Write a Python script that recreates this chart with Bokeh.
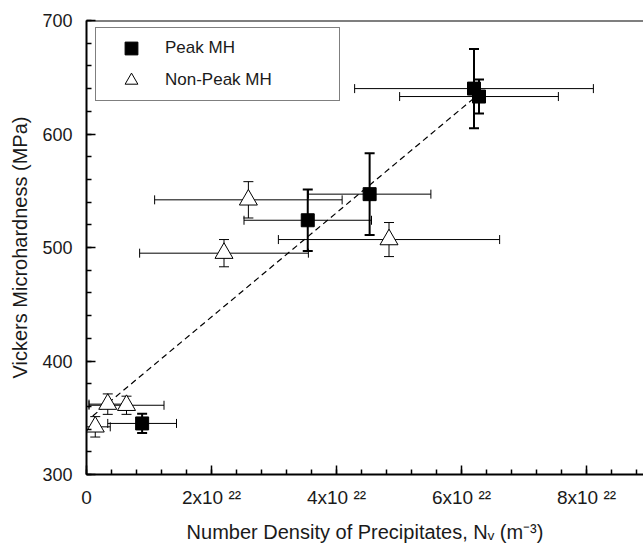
from bokeh.plotting import figure
from bokeh.models import (ColumnDataSource, Whisker, TeeHead, Span, Legend, LegendItem,
                          Range1d, SingleIntervalTicker)
from bokeh.embed import file_html
from bokeh.resources import INLINE

# Number density in units of 1e22 m^-3, microhardness in MPa
peak_nv = [6.20, 6.28, 4.53, 3.54, 0.89]
peak_mh = [640, 633, 547, 524, 345]
peak_nv_err = [1.91, 1.27, 0.98, 1.02, 0.55]
peak_mh_err = [35, 15, 36, 27, 8.5]

nonpeak_nv = [2.59, 2.20, 4.84, 0.34, 0.64, 0.14]
nonpeak_mh = [542, 495, 507, 362, 361, 342]
nonpeak_nv_err = [1.50, 1.35, 1.77, 0.30, 0.60, 0.24]
nonpeak_mh_err = [16, 12, 15, 9, 8, 9]

fit_nv = [0.10, 6.25]
fit_mh = [351.6, 633.9]

x_ticks = [0, 2, 4, 6, 8]
x_tick_labels = ["0", "2x10 \u00b2\u00b2", "4x10 \u00b2\u00b2", "6x10 \u00b2\u00b2", "8x10 \u00b2\u00b2"]

FONT = "Liberation Sans"
TXT = "#1a1a1a"


def err_source(xs, ys, xe, ye):
    return ColumnDataSource(dict(
        x=xs, y=ys,
        xl=[a - b for a, b in zip(xs, xe)], xu=[a + b for a, b in zip(xs, xe)],
        yl=[a - b for a, b in zip(ys, ye)], yu=[a + b for a, b in zip(ys, ye)],
    ))


src_p = err_source(peak_nv, peak_mh, peak_nv_err, peak_mh_err)
src_n = err_source(nonpeak_nv, nonpeak_mh, nonpeak_nv_err, nonpeak_mh_err)

p = figure(width=643, height=551, output_backend="svg", toolbar_location=None,
           x_range=Range1d(0, 8.912), y_range=Range1d(300, 700),
           min_border_left=86, min_border_right=0, min_border_top=20, min_border_bottom=77)
p.outline_line_color = None
p.grid.visible = False
p.background_fill_color = "white"
p.border_fill_color = "white"

# Dashed fit line
p.line(fit_nv, fit_mh, line_color="black", line_width=1.2, line_dash="6 4")


def add_whiskers(src, ylw):
    wx = Whisker(source=src, base="y", lower="xl", upper="xu", dimension="width",
                 line_color="black", line_width=1,
                 lower_head=TeeHead(size=9, line_width=1, line_color="black"),
                 upper_head=TeeHead(size=9, line_width=1, line_color="black"), level="underlay")
    wy = Whisker(source=src, base="x", lower="yl", upper="yu", dimension="height",
                 line_color="black", line_width=ylw,
                 lower_head=TeeHead(size=10, line_width=ylw, line_color="black"),
                 upper_head=TeeHead(size=10, line_width=ylw, line_color="black"), level="underlay")
    p.add_layout(wx)
    p.add_layout(wy)


add_whiskers(src_p, 2)
add_whiskers(src_n, 1)

sq = p.scatter("x", "y", source=src_p, marker="square", size=13,
               fill_color="black", line_color="black")
tri = p.scatter("x", "y", source=src_n, marker="triangle", size=18,
                fill_color="white", line_color="black", line_width=1)

# top border line
p.add_layout(Span(location=700, dimension="width", line_color="black", line_width=2))

# axes
for ax in (p.xaxis[0], p.yaxis[0]):
    ax.axis_line_width = 2
    ax.axis_line_color = "black"
    ax.major_tick_in = 9
    ax.major_tick_out = 0
    ax.minor_tick_in = 5
    ax.minor_tick_out = 0
    ax.major_tick_line_width = 1.5
    ax.minor_tick_line_width = 1.5
    ax.major_label_text_font = FONT
    ax.major_label_text_font_size = "18px"
    ax.major_label_text_color = TXT
    ax.axis_label_text_font = FONT
    ax.axis_label_text_font_size = "20px"
    ax.axis_label_text_font_style = "normal"
    ax.axis_label_text_color = TXT

p.xaxis.ticker = SingleIntervalTicker(interval=2, num_minor_ticks=5)
p.xaxis.major_label_overrides = {t: l for t, l in zip(x_ticks, x_tick_labels)}
p.xaxis.major_label_text_font_size = "19px"
p.xaxis.major_label_standoff = 12
p.xaxis.axis_label = "Number Density of Precipitates, N\u1d65 (m\u207b\u00b3)"
p.xaxis.axis_label_standoff = 10

p.yaxis.ticker = SingleIntervalTicker(interval=100, num_minor_ticks=5)
p.yaxis.major_label_standoff = 14
p.yaxis.axis_label = "Vickers Microhardness (MPa)"
p.yaxis.axis_label_standoff = 8

legend = Legend(items=[LegendItem(label="Peak MH", renderers=[sq]),
                       LegendItem(label="Non-Peak MH", renderers=[tri])],
                location=(9, 373), padding=4, spacing=0, margin=0,
                glyph_width=62, glyph_height=32, label_height=32, label_standoff=3,
                label_width=170, border_line_color="black", border_line_width=1,
                label_text_font=FONT, label_text_font_size="17px", label_text_color=TXT,
                background_fill_color="white", background_fill_alpha=1)
p.add_layout(legend)

open("out.html", "w").write(file_html(p, INLINE))
